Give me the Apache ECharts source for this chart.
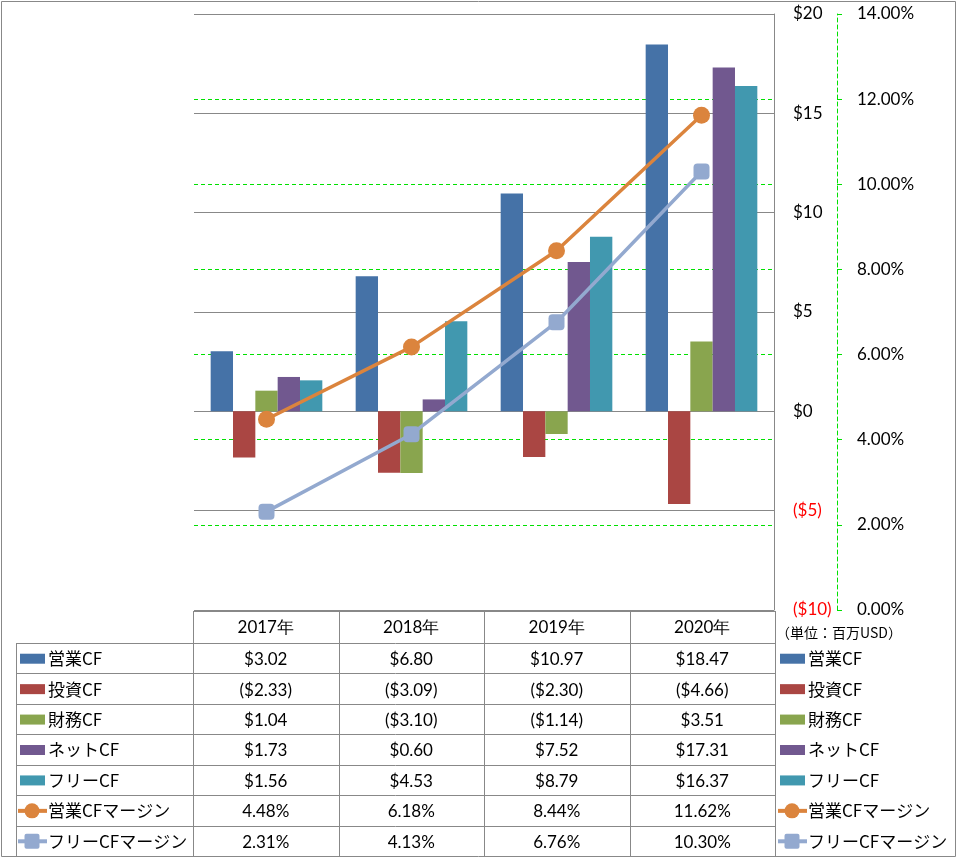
<!DOCTYPE html>
<html><head><meta charset="utf-8">
<script src="https://cdn.jsdelivr.net/npm/echarts@6/dist/echarts.min.js"></script>
<style>html,body{margin:0;padding:0;background:#fff}#c{width:957px;height:858px}</style>
</head><body><div id="c"></div>
<script>
// ---- data ----
const categories = ['2017年', '2018年', '2019年', '2020年'];
const seriesNames = ['営業CF', '投資CF', '財務CF', 'ネットCF', 'フリーCF', '営業CFマージン', 'フリーCFマージン'];
const opCF = [3.02, 6.80, 10.97, 18.47];
const invCF = [-2.33, -3.09, -2.30, -4.66];
const finCF = [1.04, -3.10, -1.14, 3.51];
const netCF = [1.73, 0.60, 7.52, 17.31];
const freeCF = [1.56, 4.53, 8.79, 16.37];
const opMargin = [4.48, 6.18, 8.44, 11.62];
const freeMargin = [2.31, 4.13, 6.76, 10.30];
const unitLabel = '（単位：百万USD）';

// ---- styles ----
const colors = ['#4572A7', '#AA4643', '#89A54E', '#71588F', '#4198AF', '#DB843D', '#93A9CF'];
const FONT_NUM = 'Lato, "Open Sans", sans-serif';
const FONT_JP = '"Noto Sans CJK JP", sans-serif';
const GRID = '#888888';
const GREEN = '#00E000';

const money = v => v < 0 ? '($' + Math.abs(v).toFixed(2) + ')' : '$' + v.toFixed(2);
const pct = v => v.toFixed(2) + '%';

const barData = [opCF, invCF, finCF, netCF, freeCF];
const lineData = [opMargin, freeMargin];

// ---- layout ----
const L = 194, R = 774, T = 14, B = 610;
const colX = [193, 338.5, 484, 629.5, 775];
const legL = 16;
const headTop = 611, rowTop = 643, rowH = 30.43;
const legR = 780;

const g = [];
const line = (x1, y1, x2, y2) => g.push({type: 'line', silent: true, shape: {x1, y1, x2, y2}, style: {stroke: GRID, lineWidth: 1}, z: 10});
g.push({type: 'rect', silent: true, shape: {x: 1.5, y: 1.5, width: 954, height: 855}, style: {fill: 'none', stroke: GRID, lineWidth: 1}, z: 10});
for (let i = 0; i < colX.length; i++) line(Math.round(colX[i]) + 0.5, headTop, Math.round(colX[i]) + 0.5, 857);
line(legL + 0.5, rowTop, legL + 0.5, 857);
line(colX[0], headTop + 0.5, colX[4], headTop + 0.5);
for (let k = 0; k < 7; k++) {
  const y = Math.round(rowTop + k * rowH) + 0.5;
  line(legL, y, colX[4], y);
}
categories.forEach((c, i) => {
  g.push({type: 'text', silent: true, x: (colX[i] + colX[i + 1]) / 2, y: (headTop + rowTop) / 2 + 1,
    style: {text: c, font: '17px ' + FONT_NUM, fill: '#000', align: 'center', verticalAlign: 'middle'}});
});
function icon(x, yc, idx) {
  if (idx < 5) {
    g.push({type: 'rect', silent: true, shape: {x: x, y: yc - 5, width: 25, height: 10}, style: {fill: colors[idx]}});
  } else {
    g.push({type: 'line', silent: true, shape: {x1: x - 2, y1: yc, x2: x + 27, y2: yc}, style: {stroke: colors[idx], lineWidth: 4}});
    if (idx === 5) g.push({type: 'circle', silent: true, shape: {cx: x + 12, cy: yc, r: 7.5}, style: {fill: colors[idx]}});
    else g.push({type: 'rect', silent: true, shape: {x: x + 4.5, y: yc - 7.5, width: 15, height: 15, r: 2}, style: {fill: colors[idx]}});
  }
}
seriesNames.forEach((name, k) => {
  const yc = rowTop + k * rowH + rowH / 2 + 0.5;
  icon(legL + 4, yc, k);
  g.push({type: 'text', silent: true, x: legL + 32, y: yc,
    style: {text: name, font: '17px ' + FONT_JP, fill: '#000', align: 'left', verticalAlign: 'middle'}});
  icon(legR, yc, k);
  g.push({type: 'text', silent: true, x: legR + 28, y: yc,
    style: {text: name, font: '17px ' + FONT_JP, fill: '#000', align: 'left', verticalAlign: 'middle'}});
  const vals = k < 5 ? barData[k] : lineData[k - 5];
  vals.forEach((v, i) => {
    g.push({type: 'text', silent: true, x: (colX[i] + colX[i + 1]) / 2, y: yc + 1,
      style: {text: k < 5 ? money(v) : pct(v), font: '17px ' + FONT_NUM, fill: '#000', align: 'center', verticalAlign: 'middle'}});
  });
});
g.push({type: 'text', silent: true, x: legR - 4, y: 633,
  style: {text: unitLabel, font: '14px ' + FONT_JP, fill: '#000', align: 'left', verticalAlign: 'middle'}});

// yAxis 0 = percent (drawn first), yAxis 1 = dollars (drawn on top)
const series = [];
barData.forEach((d, i) => series.push({
  name: seriesNames[i], type: 'bar', data: d, yAxisIndex: 1,
  barGap: '0%', barCategoryGap: '23%', itemStyle: {color: colors[i]}, animation: false
}));
series.push({name: seriesNames[5], type: 'line', data: opMargin, yAxisIndex: 0, symbol: 'circle', symbolSize: 17,
  lineStyle: {color: colors[5], width: 3.5}, itemStyle: {color: colors[5]}, animation: false, z: 5});
series.push({name: seriesNames[6], type: 'line', data: freeMargin, yAxisIndex: 0, symbol: 'roundRect', symbolSize: 16,
  lineStyle: {color: colors[6], width: 3.5}, itemStyle: {color: colors[6]}, animation: false, z: 5});

const chart = echarts.init(document.getElementById('c'), null, {renderer: 'canvas'});
chart.setOption({
  animation: false,
  backgroundColor: '#fff',
  grid: {left: L, right: 957 - R, top: T, bottom: 858 - B, containLabel: false},
  xAxis: {type: 'category', data: categories, axisLine: {show: false}, axisTick: {show: false}, axisLabel: {show: false}, splitLine: {show: false}},
  yAxis: [
    {type: 'value', position: 'right', offset: 63, min: 0, max: 14, interval: 2,
      axisLine: {show: true, lineStyle: {color: GREEN, width: 1, type: [4, 3]}},
      axisTick: {show: true, inside: false, length: 5, lineStyle: {color: GREEN}},
      axisLabel: {margin: 20, fontFamily: FONT_NUM, fontSize: 17, color: '#000', formatter: v => v.toFixed(2) + '%'},
      splitLine: {show: true, lineStyle: {color: GREEN, width: 1, type: [4, 3]}}},
    {type: 'value', position: 'right', min: -10, max: 20, interval: 5,
      axisLine: {show: true, lineStyle: {color: GRID, width: 1}}, axisTick: {show: false},
      axisLabel: {margin: 19, fontFamily: FONT_NUM, fontSize: 17,
        formatter: v => v < 0 ? '($' + (-v) + ')' : '$' + v,
        color: v => (v < 0 ? '#FF0000' : '#000')},
      splitLine: {show: true, lineStyle: {color: GRID, width: 1}}}
  ],
  series: series,
  graphic: g
});
</script></body></html>
